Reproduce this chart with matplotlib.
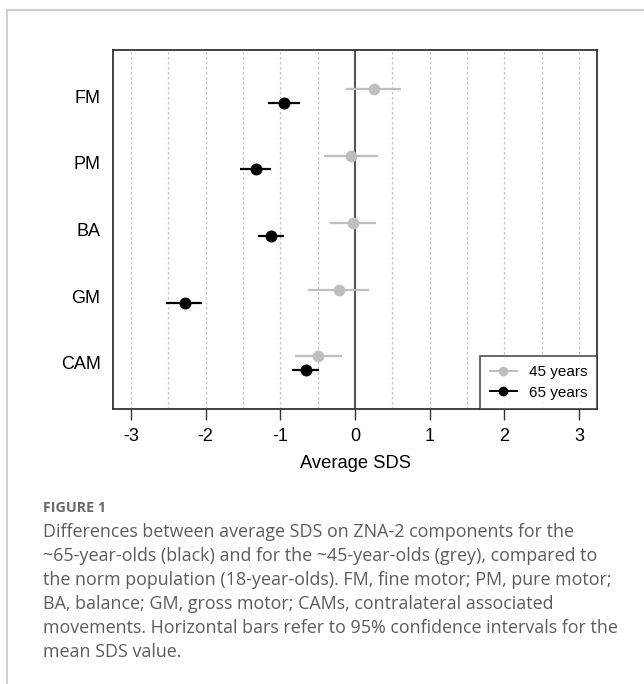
import numpy as np
import matplotlib
matplotlib.use("Agg")
import matplotlib.pyplot as plt
from matplotlib.lines import Line2D

categories = ["FM", "PM", "BA", "GM", "CAM"]

# 45 years (grey): mean and 95% CI
mean_45 = [0.25, -0.05, -0.03, -0.22, -0.49]
lo_45 = [-0.12, -0.42, -0.33, -0.63, -0.81]
hi_45 = [0.62, 0.31, 0.28, 0.19, -0.17]

# 65 years (black)
mean_65 = [-0.95, -1.33, -1.13, -2.28, -0.66]
lo_65 = [-1.16, -1.54, -1.30, -2.53, -0.85]
hi_65 = [-0.74, -1.12, -0.95, -2.05, -0.48]

xticks = [-3, -2, -1, 0, 1, 2, 3]
caption = ("Differences between average SDS on ZNA-2 components for the\n"
           "~65-year-olds (black) and for the ~45-year-olds (grey), compared to\n"
           "the norm population (18-year-olds). FM, fine motor; PM, pure motor;\n"
           "BA, balance; GM, gross motor; CAMs, contralateral associated\n"
           "movements. Horizontal bars refer to 95% confidence intervals for the\n"
           "mean SDS value.")

grey = "#bebebe"
plt.rcParams["font.family"] = ["Liberation Sans", "DejaVu Sans"]

fig = plt.figure(figsize=(6.44, 6.84), dpi=100)
ax = fig.add_axes([113 / 644, 275 / 684, 484 / 644, 359 / 684])

ypos = np.arange(len(categories))[::-1] + 1.0
off = 0.1

# grid
for g in np.arange(-3, 3.01, 0.5):
    if g == 0:
        continue
    ax.axvline(g, color="#c4c4c4", lw=0.9, ls=(0, (2, 2)), zorder=0)
ax.axvline(0, color="#555555", lw=1.5, zorder=1)

m45 = np.array(mean_45)
m65 = np.array(mean_65)
ax.errorbar(m45, ypos + off,
            xerr=[m45 - np.array(lo_45), np.array(hi_45) - m45],
            fmt="o", color=grey, ecolor=grey, elinewidth=1.6, ms=7.4,
            capsize=0, zorder=3)
ax.errorbar(m65, ypos - off,
            xerr=[m65 - np.array(lo_65), np.array(hi_65) - m65],
            fmt="o", color="black", ecolor="black", elinewidth=1.6, ms=7.6,
            capsize=0, zorder=4)

ax.set_xlim(-3.24, 3.24)
ax.set_ylim(0.31, 5.69)
ax.set_xticks(xticks)
ax.set_xticklabels([str(t) for t in xticks], fontsize=13)
ax.set_yticks(ypos)
ax.set_yticklabels(categories, fontsize=13)
ax.tick_params(axis="y", length=0, pad=9)
ax.tick_params(axis="x", length=8, width=1, color="#333333", pad=6)
for s in ax.spines.values():
    s.set_color("#333333")
    s.set_linewidth(1.3)
ax.set_xlabel("Average SDS", fontsize=13.2, labelpad=7)

handles = [Line2D([], [], color=grey, marker="o", ms=6, lw=1.4),
           Line2D([], [], color="black", marker="o", ms=6, lw=1.4)]
leg = ax.legend(handles, ["45 years", "65 years"], loc="lower right",
                fontsize=11, frameon=True, fancybox=False, borderaxespad=0,
                handlelength=1.8, handletextpad=0.8, borderpad=0.6,
                labelspacing=0.45)
leg.get_frame().set_edgecolor("#333333")
leg.get_frame().set_linewidth(1.3)

# panel border
fig.add_artist(Line2D([7 / 644, 1], [1 - 10 / 684, 1 - 10 / 684],
                      color="#c8c8c8", lw=1.2, transform=fig.transFigure))
fig.add_artist(Line2D([7 / 644, 7 / 644], [0, 1 - 10 / 684],
                      color="#c8c8c8", lw=1.2, transform=fig.transFigure))

fig.text(43 / 644, 1 - 508 / 684, "FIGURE 1", fontsize=10.3, color="#6a6a6a",
         fontweight="bold", family=["Open Sans", "DejaVu Sans"], va="center")
fig.text(43 / 644, 1 - 523 / 684, caption, fontsize=12.9, color="#5c5c5c",
         family=["Open Sans", "DejaVu Sans"], va="top", linespacing=1.43)

fig.savefig("out.png", dpi=100)
